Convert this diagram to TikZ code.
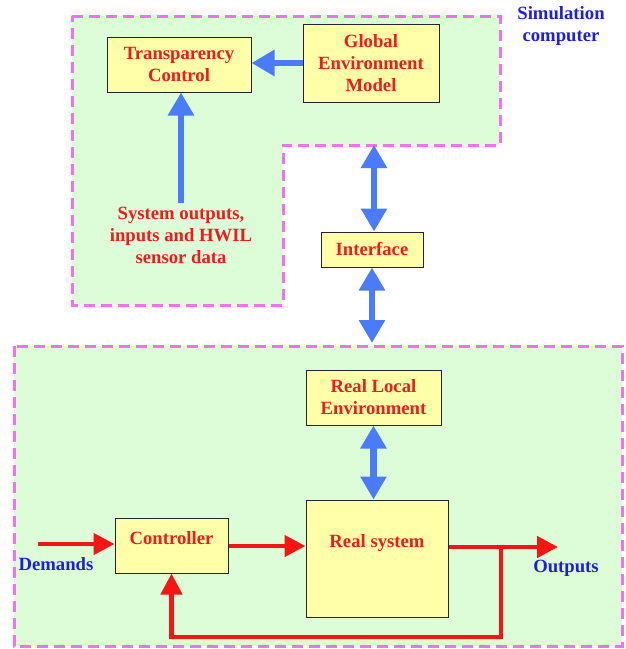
\documentclass[tikz,border=0pt]{standalone}
\usepackage{fontspec}
\setmainfont{Liberation Serif}
\usetikzlibrary{arrows.meta}
\definecolor{regfill}{HTML}{DCFDD8}
\definecolor{regdash}{HTML}{F570F0}
\definecolor{boxfill}{HTML}{FFFFAA}
\definecolor{arrblue}{HTML}{4A7BFA}
\definecolor{arrred}{HTML}{F51515}
\definecolor{txtred}{HTML}{EE1C1C}
\definecolor{txtblue}{HTML}{1E1EE0}
\begin{document}
\begin{tikzpicture}[x=1pt,y=-1pt,
  region/.style={draw=regdash,fill=regfill,line width=3pt,dash pattern=on 11pt off 6pt},
  box/.style={draw=black!85,fill=boxfill,line width=1pt,inner sep=0pt},
  rtext/.style={text=txtred,font=\bfseries\fontsize{18.7}{22}\selectfont,align=center,inner sep=0pt},
  btext/.style={text=txtblue,font=\bfseries\fontsize{18.7}{22}\selectfont,align=center,inner sep=0pt},
  barrow/.style={draw=arrblue,line width=6.5pt,-{Triangle[width=25pt,length=23pt]}},
  bdarrow/.style={draw=arrblue,line width=6.5pt,{Triangle[width=25pt,length=23pt]}-{Triangle[width=25pt,length=23pt]}},
  rarrow/.style={draw=arrred,line width=4.5pt,-{Triangle[width=21pt,length=21pt]}},
  rline/.style={draw=arrred,line width=4.5pt}]
\useasboundingbox (0,0) rectangle (626,649);
% regions
\draw[region] (72,16) -- (500,16) -- (500,145) -- (283,145) -- (283,305) -- (72,305) -- cycle;
\draw[region] (14,346) rectangle (622,646);
% top boxes
\node[box,rtext,minimum width=144pt,minimum height=55pt] (tc) at (179,64.5) {Transparency\\Control};
\node[box,rtext,minimum width=136pt,minimum height=78pt] (gem) at (371,63) {Global\\Environment\\Model};
\node[btext,anchor=center] (sim) at (561,26) {Simulation\\computer};
\node[rtext] (sysdata) at (181,235) {System outputs,\\inputs and HWIL\\sensor data};
\node[box,rtext,minimum width=102pt,minimum height=35pt] (iface) at (372,249.5) {Interface};
% bottom boxes
\node[box,rtext,minimum width=135pt,minimum height=55pt] (rle) at (373.5,397.5) {Real Local\\Environment};
\node[box,minimum width=142pt,minimum height=117pt] (rs) at (377,558.5) {};
\node[rtext] (rstext) at (377,543) {Real system};
\node[box,minimum width=113pt,minimum height=55pt] (ctrl) at (171.5,545.5) {};
\node[rtext] (ctrltext) at (171.5,538) {Controller};
\node[btext] (dem) at (56,564) {Demands};
\node[btext] (outp) at (566,568) {Outputs};
% blue connectors
\draw[barrow] (gem.west) -- (gem.west -| tc.east);
\coordinate (upstart) at (181,203);
\draw[barrow] (upstart) -- (upstart |- tc.south);
\coordinate (stepc) at (374,145);
\draw[bdarrow] (stepc) -- (stepc |- iface.north);
\coordinate (lowtop) at (372,343);
\draw[bdarrow] (lowtop |- iface.south) -- (lowtop);
\draw[bdarrow] (rle.south) -- (rle.south |- rs.north);
% red connectors
\coordinate (dstart) at (38,544);
\draw[rarrow] (dstart) -- (dstart -| ctrl.west);
\coordinate (c2r) at (228,546);
\draw[rarrow] (c2r -| ctrl.east) -- (c2r -| rs.west);
\coordinate (branch) at (501,547);
\coordinate (outend) at (558,547);
\draw[rarrow] (branch -| rs.east) -- (outend);
\coordinate (fbcorner) at (501,637);
\draw[rarrow] (branch) -- (fbcorner) -| (ctrl.south);
\end{tikzpicture}
\end{document}
